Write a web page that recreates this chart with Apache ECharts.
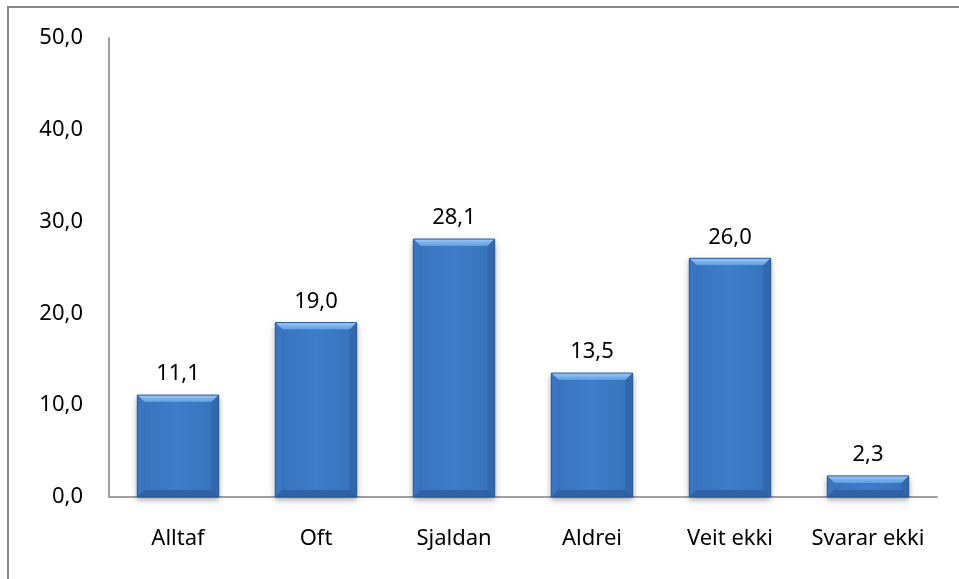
<!DOCTYPE html>
<html>
<head>
<meta charset="utf-8">
<script src="https://cdn.jsdelivr.net/npm/echarts@6/dist/echarts.min.js"></script>
<style>
  html, body { margin: 0; padding: 0; background: #fff; }
  #chart { width: 959px; height: 579px; }
</style>
</head>
<body>
<div id="chart"></div>
<script>
"use strict";

const categories = ["Alltaf", "Oft", "Sjaldan", "Aldrei", "Veit ekki", "Svarar ekki"];
const values = [11.1, 19.0, 28.1, 13.5, 26.0, 2.3];
const yTicks = { min: 0, max: 50, interval: 10 };

const FONT = '"Noto Sans", "DejaVu Sans", sans-serif';
const comma = (v) => Number(v).toFixed(1).replace(".", ",");

// beveled bar like the Excel "bevel" style
function renderBar(params, api) {
  const idx = api.value(0);
  const v = api.value(1);
  const top = api.coord([idx, v]);
  const base = api.coord([idx, 0]);
  const w = api.size([1, 0])[0] * 0.59;
  const L = top[0] - w / 2, R = top[0] + w / 2, T = top[1], B = base[1];
  const b = Math.min(7, (B - T) / 3);
  const poly = (pts, fill) => ({ type: "polygon", shape: { points: pts }, style: { fill } });
  return {
    type: "group",
    children: [
      {
        type: "rect",
        shape: { x: L, y: T, width: w, height: B - T },
        style: { fill: "#2f65a8", shadowBlur: 6, shadowOffsetY: 3, shadowColor: "rgba(0,0,0,0.35)" },
      },
      {
        type: "rect",
        shape: { x: L + b, y: T + b, width: w - 2 * b, height: B - T - 2 * b },
        style: {
          fill: new echarts.graphic.LinearGradient(0, 0, 1, 0, [
            { offset: 0, color: "#3974be" },
            { offset: 0.5, color: "#3e7dca" },
            { offset: 1, color: "#3874bd" },
          ]),
        },
      },
      poly([[L, T], [R, T], [R - b, T + b], [L + b, T + b]],
        new echarts.graphic.LinearGradient(0, 0, 0, 1, [
          { offset: 0, color: "#9ac9f6" },
          { offset: 1, color: "#5d9be2" },
        ])),
      poly([[L, T], [L + b, T + b], [L + b, B - b], [L, B]], "#3975c0"),
      poly([[R, T], [R, B], [R - b, B - b], [R - b, T + b]], "#3269ae"),
      poly([[L, B], [L + b, B - b], [R - b, B - b], [R, B]], "#2f63a6"),
      {
        type: "rect",
        shape: { x: L, y: T, width: w, height: B - T },
        style: { fill: "none", stroke: "#2a5a98", lineWidth: 1 },
      },
      {
        type: "text",
        x: top[0],
        y: T - 10,
        style: { text: comma(v), align: "center", verticalAlign: "bottom", font: "22px " + FONT, fill: "#000" },
      },
    ],
  };
}

const chart = echarts.init(document.getElementById("chart"));
chart.setOption({
  animation: false,
  grid: { left: 109, right: 22, top: 38, bottom: 82 },
  graphic: [
    {
      type: "rect",
      shape: { x: 8, y: 7, width: 980, height: 600 },
      style: { fill: "none", stroke: "#878787", lineWidth: 2 },
      silent: true,
    },
  ],
  xAxis: {
    type: "category",
    data: categories,
    axisLine: { lineStyle: { color: "#a0a0a0", width: 2 } },
    axisTick: { show: false },
    axisLabel: { color: "#000", fontFamily: FONT, fontSize: 22, margin: 31, interval: 0 },
  },
  yAxis: {
    type: "value",
    min: yTicks.min,
    max: yTicks.max,
    interval: yTicks.interval,
    axisLine: { show: true, lineStyle: { color: "#a0a0a0", width: 2 } },
    axisTick: { show: false },
    splitLine: { show: false },
    axisLabel: { color: "#000", fontFamily: FONT, fontSize: 22, margin: 26, formatter: comma },
  },
  series: [
    {
      type: "custom",
      renderItem: renderBar,
      data: values.map((v, i) => [i, v]),
      encode: { x: 0, y: 1 },
    },
  ],
});
</script>
</body>
</html>
